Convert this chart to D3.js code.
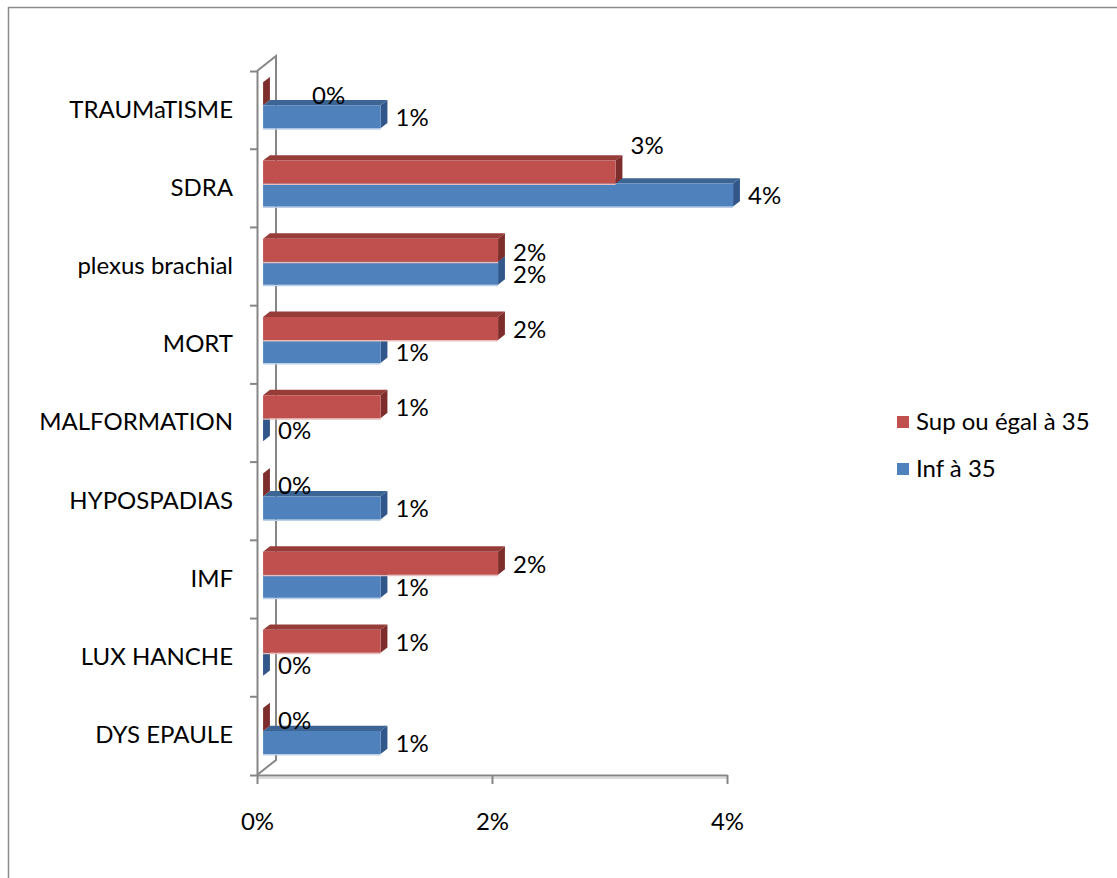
<!DOCTYPE html>
<html>
<head>
<meta charset="utf-8">
<script src="https://cdn.jsdelivr.net/npm/d3@7"></script>
<style>
  body { margin: 0; background: #fff; }
  svg text { font-family: Lato, "Open Sans", sans-serif; fill: #000; }
</style>
</head>
<body>
<script>
// Complications by maternal age group (3D clustered horizontal bars)
const categories = ["TRAUMaTISME", "SDRA", "plexus brachial", "MORT", "MALFORMATION",
                    "HYPOSPADIAS", "IMF", "LUX HANCHE", "DYS EPAULE"];
const seriesNames = ["Sup ou égal à 35", "Inf à 35"];
const supValues = [0, 0.03, 0.02, 0.02, 0.01, 0, 0.02, 0.01, 0];
const infValues = [0.01, 0.04, 0.02, 0.01, 0, 0.01, 0.01, 0, 0.01];
const xTicks = [0, 0.02, 0.04];

const W = 1117, H = 878;
const fontSize = 24;
const palette = [
  { front: "#C0504D", top: "#963D3A", side: "#7D2E2C", edge: "#E9BDBC" },
  { front: "#4F81BD", top: "#3D6594", side: "#30568A", edge: "#BCD0E8" }
];
const wall = { x: 19, y: -15 };        // oblique depth vector of the plot box
const barDepth = [0.32, 0.68];          // bar front/back as fraction of box depth
const barThick = 23;

// labels placed by hand rather than at the bar end
const labelNudge = {
  "TRAUMaTISME|0": { dx: 34, dy: 1 },
  "SDRA|0": { dx: 0, dy: -27 },
  "plexus brachial|0": { dx: 0, dy: 1 }
};

const svg = d3.select("body").append("svg").attr("width", W).attr("height", H);

// chart frame (right and bottom edges fall outside the view)
svg.append("rect")
  .attr("x", 8.5).attr("y", 7.5).attr("width", W + 20).attr("height", H + 20)
  .attr("fill", "none").attr("stroke", "#8C8C8C").attr("stroke-width", 1.5);

const x = d3.scaleLinear().domain([0, 0.04]).range([257, 727]);
const y = d3.scaleBand().domain(categories).range([71, 775]);
const inner = d3.scaleBand().domain([0, 1]).range([-barThick, barThick]);

const P = (xv, yv, z) => [xv + wall.x * z, yv + wall.y * z];
const poly = pts => "M" + pts.map(p => p.join(",")).join("L") + "Z";

const axisColor = "#868686";

// back wall outline
const x0 = x.range()[0], y0 = y.range()[0], y1 = y.range()[1];
svg.append("path")
  .attr("d", "M" + [x0, y0] + "L" + P(x0, y0, 1) + "L" + P(x0, y1, 1) + "L" + [x0, y1])
  .attr("fill", "none").attr("stroke", axisColor).attr("stroke-width", 2);

// category axis (front edge)
const yAxis = svg.append("g")
  .attr("transform", `translate(${x0},0)`)
  .call(d3.axisLeft(y).tickSizeInner(0).tickSizeOuter(7).tickPadding(24));
yAxis.select(".domain").attr("stroke", axisColor).attr("stroke-width", 2);
yAxis.selectAll("text")
  .attr("font-size", fontSize).attr("dy", "0.35em").attr("y", -1)
  .style("font-family", "Lato, 'Open Sans', sans-serif");
// boundary ticks between categories
yAxis.selectAll("line.bound")
  .data(categories.slice(1))
  .join("line").attr("class", "bound")
  .attr("x1", -7).attr("x2", 0)
  .attr("y1", d => y(d)).attr("y2", d => y(d))
  .attr("stroke", axisColor).attr("stroke-width", 2);

// value axis along the floor front edge
svg.append("line")
  .attr("x1", x0).attr("x2", x.range()[1]).attr("y1", y1 + 3).attr("y2", y1 + 3)
  .attr("stroke", "#DCDCDC").attr("stroke-width", 2);
const xAxis = svg.append("g")
  .attr("transform", `translate(0,${y1})`)
  .call(d3.axisBottom(x).tickValues(xTicks).tickFormat(d3.format(".0%"))
    .tickSizeInner(9).tickSizeOuter(0).tickPadding(0));
xAxis.select(".domain").attr("stroke", axisColor).attr("stroke-width", 2);
xAxis.selectAll(".tick line").attr("stroke", axisColor).attr("stroke-width", 2);
xAxis.selectAll("text")
  .attr("y", 47).attr("dy", "0.35em").attr("font-size", fontSize)
  .style("font-family", "Lato, 'Open Sans', sans-serif");
svg.selectAll(".tick text").attr("fill", "#000");

// bars: bottom highlight, top face, end face, front face
const rows = categories.map((c, i) => ({ cat: c, vals: [supValues[i], infValues[i]] }));
const gBars = svg.append("g");
const fmt = d3.format(".0%");
const labels = [];

rows.forEach(r => {
  const yc = y(r.cat) + y.bandwidth() / 2;
  [1, 0].forEach(s => {
    const v = r.vals[s];
    const xa = x(0), xb = x(v);
    const yt = yc + inner(s), yb = yt + barThick;
    const [za, zb] = barDepth;
    const col = palette[s];
    const g = gBars.append("g");
    const bl = P(xa, yb, za), br = P(xb, yb, za);
    g.append("path").attr("d", poly([bl, br, [br[0], br[1] + 1.5], [bl[0], bl[1] + 1.5]]))
      .attr("fill", col.edge);
    g.append("path").attr("d", poly([P(xa, yt, za), P(xb, yt, za), P(xb, yt, zb), P(xa, yt, zb)]))
      .attr("fill", col.top);
    g.append("path").attr("d", poly([P(xb, yt, za), P(xb, yt, zb), P(xb, yb, zb), P(xb, yb, za)]))
      .attr("fill", col.side);
    g.append("path").attr("d", poly([P(xa, yt, za), P(xb, yt, za), P(xb, yb, za), P(xa, yb, za)]))
      .attr("fill", col.front);
    const n = labelNudge[r.cat + "|" + s] || { dx: 0, dy: 0 };
    const f = P(xb, (yt + yb) / 2, za);
    labels.push({ x: f[0] + 15 + n.dx, y: f[1] + 1 + n.dy, text: fmt(v) });
  });
});

svg.append("g").selectAll("text")
  .data(labels)
  .join("text")
  .attr("x", d => d.x).attr("y", d => d.y).attr("dy", "0.35em")
  .attr("font-size", fontSize)
  .text(d => d.text);

// legend
const legend = svg.append("g").attr("transform", "translate(897,416)");
seriesNames.forEach((name, i) => {
  const row = legend.append("g").attr("transform", `translate(0,${i * 47})`);
  row.append("rect").attr("width", 12).attr("height", 12).attr("fill", palette[i].front);
  row.append("text").attr("x", 19).attr("y", 6).attr("dy", "0.35em")
    .attr("font-size", fontSize).text(name);
});
</script>
</body>
</html>
